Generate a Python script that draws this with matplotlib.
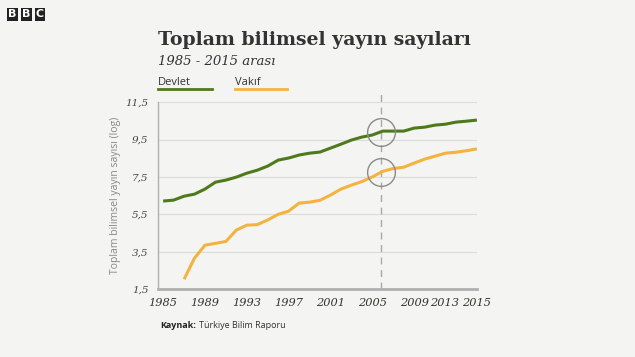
import matplotlib
matplotlib.use("Agg")
import matplotlib.pyplot as plt

# data (log of publication counts)
devlet_years = list(range(1985, 2016))
devlet = [6.21, 6.26, 6.47, 6.58, 6.85, 7.22, 7.33, 7.49, 7.70, 7.86,
          8.08, 8.40, 8.51, 8.67, 8.77, 8.83, 9.04, 9.25, 9.47, 9.63,
          9.74, 9.95, 9.95, 9.95, 10.11, 10.16, 10.27, 10.32, 10.43, 10.48,
          10.54]
vakif_years = list(range(1987, 2016))
vakif = [2.03, 3.16, 3.85, 3.95, 4.05, 4.66, 4.92, 4.95, 5.20, 5.50,
         5.67, 6.10, 6.15, 6.25, 6.53, 6.85, 7.06, 7.25, 7.50, 7.80,
         7.95, 8.02, 8.24, 8.45, 8.61, 8.77, 8.82, 8.90, 9.00]
marker_year = 2006
x_ticks = [1985, 1989, 1993, 1997, 2001, 2005, 2009, 2013, 2015]
y_ticks = [1.5, 3.5, 5.5, 7.5, 9.5, 11.5]

GREEN = "#4e7a1c"
ORANGE = "#f3b33f"
BG = "#f4f4f2"
GRAY = "#a8a8a8"
TICK_FONT = dict(family="DejaVu Serif", style="italic", fontsize=8.2,
                 color="#333333")

fig = plt.figure(figsize=(6.35, 3.57), dpi=100, facecolor=BG)
ax = fig.add_axes([0.249, 0.190, 0.502, 0.524], facecolor=BG)

ax.plot(devlet_years, devlet, color=GREEN, lw=2.2, solid_capstyle="butt", zorder=3)
ax.plot(vakif_years, vakif, color=ORANGE, lw=2.2, solid_capstyle="butt", zorder=3)

ax.axvline(marker_year - 0.2, color=GRAY, lw=1.0, ls=(0, (5, 4)), zorder=2,
           ymax=1.05, clip_on=False)
for yrs, vals in ((devlet_years, devlet), (vakif_years, vakif)):
    v = vals[yrs.index(marker_year)]
    ax.plot([marker_year - 0.2], [v - 0.05], marker="o", ms=20, mfc="none",
            mec="#8a8a8a", mew=1.0, zorder=4)

ax.set_xlim(1984.52, 2015)
ax.set_ylim(1.5, 11.5)
ax.set_xticks(x_ticks)
ax.set_yticks(y_ticks)
# 2013 is drawn separately, nudged left so it clears 2015
ax.set_xticklabels(["" if t == 2013 else str(t) for t in x_ticks], **TICK_FONT)
ax.annotate("2013", xy=(2013, 0), xycoords=("data", "axes fraction"),
            xytext=(-8, -6), textcoords="offset points", ha="center",
            va="top", **TICK_FONT)
ax.set_yticklabels([f"{t:.1f}".replace(".", ",") for t in y_ticks],
                   family="DejaVu Serif", style="italic", fontsize=7.5,
                   color="#444444")
ax.tick_params(length=0, pad=6)
ax.tick_params(axis="y", pad=7)
ax.grid(axis="y", color="#dcdcdc", lw=0.8)
ax.set_axisbelow(True)
for s in ("top", "right"):
    ax.spines[s].set_visible(False)
ax.spines["left"].set_color("#b0b0b0")
ax.spines["left"].set_linewidth(1.0)
ax.spines["bottom"].set_color("#b0b0b0")
ax.spines["bottom"].set_linewidth(2.0)
ax.set_ylabel("Toplam bilimsel yayın sayısı (log)", family="Open Sans",
              fontsize=7.5, color="#888888", labelpad=3)

# titles
fig.text(0.249, 0.875, "Toplam bilimsel yayın sayıları", family="DejaVu Serif",
         fontsize=13.6, weight="bold", color="#333333", va="baseline")
fig.text(0.249, 0.818, "1985 - 2015 arası", family="DejaVu Serif",
         style="italic", fontsize=9.5, color="#333333", va="baseline")

# legend
fig.text(0.249, 0.763, "Devlet", family="Open Sans", fontsize=8,
         color="#333333", va="baseline")
fig.text(0.370, 0.763, "Vakıf", family="Open Sans", fontsize=8,
         color="#333333", va="baseline")
fig.add_artist(plt.Line2D([0.249, 0.334], [0.751, 0.751], color=GREEN, lw=2))
fig.add_artist(plt.Line2D([0.370, 0.452], [0.751, 0.751], color=ORANGE, lw=2))

# source
fig.text(0.252, 0.080, "Kaynak:", family="Open Sans", weight="bold",
         fontsize=6.5, color="#222222", va="baseline")
fig.text(0.314, 0.080, "Türkiye Bilim Raporu", family="Open Sans",
         fontsize=6.5, color="#333333", va="baseline")

# BBC logo
for i, ch in enumerate("BBC"):
    fig.text(0.019 + i * 0.022, 0.960, ch, family="DejaVu Sans", weight="bold",
             fontsize=8, color="white", va="center", ha="center",
             bbox=dict(boxstyle="square,pad=0.12", fc="#222222", ec="none"))

fig.savefig("out.png", dpi=100, facecolor=BG)
